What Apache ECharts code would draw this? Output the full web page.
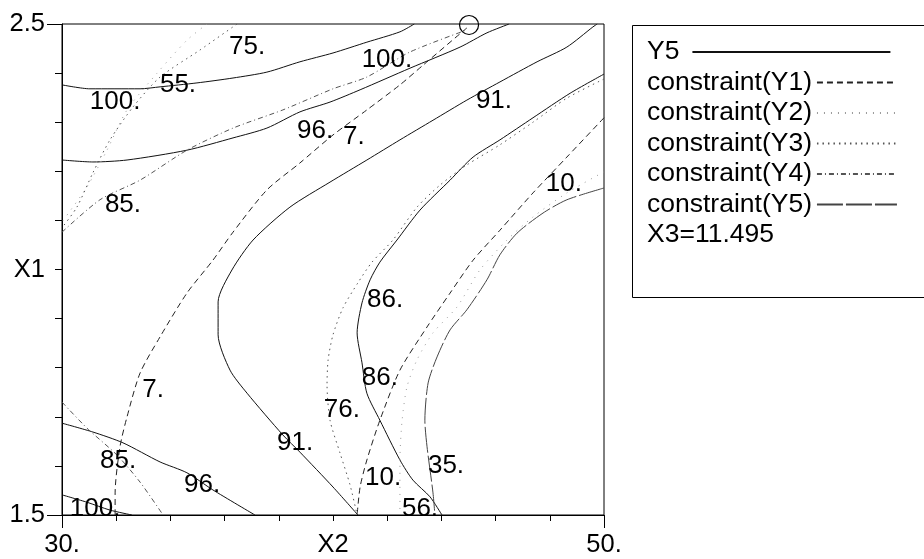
<!DOCTYPE html>
<html>
<head>
<meta charset="utf-8">
<script src="https://cdn.jsdelivr.net/npm/echarts@6/dist/echarts.min.js"></script>
<style>
  html, body { margin: 0; padding: 0; background: #fff; }
  #chart { width: 924px; height: 559px; }
</style>
</head>
<body>
<div id="chart"></div>
<script>
// Contour lines of the response surface in the (X2, X1) plane at X3 = 11.495.
// Each array is one traced contour as [X2, X1] pairs.

// Y5 response contours
const y5Level100Top = [[30.00,2.376],[31.03,2.368],[32.88,2.368],[33.62,2.372],[34.98,2.380],[36.31,2.390],[37.56,2.402],[38.78,2.423],[40.00,2.441],[41.25,2.463],[42.47,2.484],[43.00,2.500]];
const y5Level96Top = [[30.00,2.223],[31.14,2.219],[32.40,2.223],[34.61,2.243],[36.31,2.268],[37.56,2.288],[38.78,2.321],[39.89,2.341],[41.00,2.366],[42.84,2.410],[44.69,2.453],[45.68,2.482],[46.50,2.500]];
const y5Level91 = [[40.92,1.500],[40.00,1.557],[38.78,1.628],[38.15,1.663],[36.83,1.748],[36.20,1.795],[35.76,1.867],[35.76,1.934],[36.27,1.999],[37.05,2.060],[38.41,2.127],[39.89,2.178],[41.25,2.223],[42.47,2.264],[43.69,2.304],[44.94,2.345],[46.16,2.382],[47.53,2.423],[48.63,2.453],[49.59,2.494],[49.75,2.500]];
const y5Level86 = [[50.00,2.398],[48.75,2.359],[47.38,2.309],[46.16,2.264],[45.17,2.229],[44.32,2.182],[43.21,2.121],[42.36,2.060],[41.73,2.015],[41.37,1.979],[41.07,1.932],[40.89,1.871],[41.07,1.810],[41.25,1.748],[41.73,1.693],[42.47,1.612],[42.95,1.571],[43.58,1.537],[44.02,1.500]];
const y5Level96Bottom = [[30.00,1.687],[31.14,1.669],[32.25,1.647],[33.62,1.608],[34.61,1.586],[35.57,1.551],[37.12,1.500]];
const y5Level100Bottom = [[30.00,1.541],[30.92,1.526],[31.77,1.510],[32.58,1.500]];

// Constraint boundaries
const y1Bound7 = [[31.96,1.500],[31.96,1.545],[32.14,1.639],[32.40,1.700],[32.88,1.789],[33.62,1.863],[34.61,1.952],[35.57,2.019],[36.31,2.076],[37.56,2.162],[38.78,2.217],[40.00,2.274],[41.25,2.325],[42.47,2.376],[43.32,2.416],[44.94,2.492]];
const y1Bound10 = [[50.00,2.309],[48.63,2.229],[47.38,2.156],[46.16,2.080],[45.17,2.019],[44.32,1.952],[43.47,1.883],[42.47,1.795],[41.73,1.693],[41.25,1.612],[41.00,1.557],[40.89,1.500]];
const y2Bound55 = [[35.35,2.500],[34.61,2.467],[33.51,2.400],[32.40,2.325],[31.66,2.243],[30.92,2.168],[30.00,2.097]];
const y2Bound56 = [[50.00,2.199],[48.63,2.156],[47.38,2.107],[46.42,2.060],[45.42,1.999],[44.58,1.924],[43.69,1.871],[43.10,1.816],[42.73,1.761],[42.55,1.693],[42.47,1.612],[42.47,1.500]];
const y3Bound75 = [[36.46,2.500],[35.09,2.447],[33.62,2.392],[32.62,2.331],[31.77,2.264],[31.14,2.197],[30.55,2.127],[30.00,2.085]];
const y3Bound76 = [[50.00,2.388],[48.63,2.349],[47.38,2.300],[46.16,2.254],[44.94,2.213],[43.95,2.172],[43.10,2.127],[42.21,2.060],[41.44,2.015],[40.92,1.973],[40.37,1.922],[40.00,1.867],[39.82,1.816],[39.78,1.765],[39.89,1.693],[40.26,1.626],[40.63,1.561],[40.89,1.500]];
const y4Bound85Top = [[30.00,2.076],[31.40,2.142],[32.88,2.182],[34.61,2.243],[36.31,2.288],[38.15,2.325],[40.00,2.368],[41.25,2.392],[42.84,2.443],[44.94,2.488]];
const y4Bound85Bottom = [[30.00,1.730],[30.92,1.677],[32.03,1.622],[32.88,1.567],[33.73,1.500]];
const y5Bound35 = [[50.00,2.166],[48.63,2.142],[47.75,2.115],[46.79,2.074],[46.16,2.030],[45.68,1.979],[44.94,1.918],[44.32,1.877],[43.84,1.822],[43.51,1.769],[43.39,1.693],[43.47,1.639],[43.69,1.545],[43.76,1.500]];

// Level labels written along the contours: [X2, X1, text]
const levelLabels = [
  [36.83,2.453,'75.'],[34.28,2.376,'55.'],[31.96,2.341,'100.'],[39.34,2.282,'96.'],
  [40.77,2.270,'7.'],[41.99,2.427,'100.'],[45.94,2.343,'91.'],[48.52,2.174,'10.'],
  [32.25,2.131,'85.'],[41.92,1.938,'86.'],[41.73,1.779,'86.'],[40.33,1.714,'76.'],
  [41.85,1.575,'10.'],[44.17,1.600,'35.'],[43.21,1.512,'56.'],[33.36,1.755,'7.'],
  [38.60,1.647,'91.'],[32.07,1.610,'85.'],[35.17,1.561,'96.'],[31.22,1.512,'100.']
];

// Optimum found by the search
const optimumPoint = [[45.02, 2.498]];

// Axis ranges and the tick values that carry text
const x2Range = [30, 50];
const x1Range = [1.5, 2.5];
const x2TickText = { 30: '30.', 40: 'X2', 50: '50.' };
const x1TickText = { '1.5': '1.5', '2': 'X1', '2.5': '2.5' };

const legendNames = ['Y5', 'constraint(Y1)', 'constraint(Y2)', 'constraint(Y3)', 'constraint(Y4)', 'constraint(Y5)'];
const settingText = 'X3=11.495';

const contourSets = [
  ['Y5', y5Level100Top], ['Y5', y5Level96Top], ['Y5', y5Level91], ['Y5', y5Level86],
  ['Y5', y5Level96Bottom], ['Y5', y5Level100Bottom],
  ['constraint(Y1)', y1Bound7], ['constraint(Y1)', y1Bound10],
  ['constraint(Y2)', y2Bound55], ['constraint(Y2)', y2Bound56],
  ['constraint(Y3)', y3Bound75], ['constraint(Y3)', y3Bound76],
  ['constraint(Y4)', y4Bound85Top], ['constraint(Y4)', y4Bound85Bottom],
  ['constraint(Y5)', y5Bound35]
];

const FONT = "'Liberation Sans', Arial, Helvetica, sans-serif";
const lineLook = {
  'Y5':             { type: 'solid',      color: '#111', width: 1 },
  'constraint(Y1)': { type: [6, 4],       color: '#222', width: 1 },
  'constraint(Y2)': { type: [1, 6],       color: '#999', width: 1 },
  'constraint(Y3)': { type: [1.5, 4],     color: '#555', width: 1 },
  'constraint(Y4)': { type: [5, 3, 1, 3], color: '#555', width: 1 },
  'constraint(Y5)': { type: [26, 3],      color: '#444', width: 1 }
};

const chart = echarts.init(document.getElementById('chart'), null, { renderer: 'canvas' });

const series = contourSets.map(([name, pts]) => ({
  type: 'line',
  name: name,
  data: pts,
  symbol: 'none',
  smooth: 0.25,
  lineStyle: Object.assign({}, lineLook[name]),
  silent: true,
  z: 2
}));

series.push({
  type: 'scatter',
  name: 'levels',
  data: levelLabels.map(d => ({ value: [d[0], d[1]], label: { formatter: d[2] } })),
  symbol: 'circle',
  symbolSize: 0.1,
  itemStyle: { color: 'transparent', opacity: 1 },
  label: {
    show: true, position: 'inside', color: '#000', fontSize: 26, fontFamily: FONT,
    textBorderWidth: 0, textBorderColor: 'transparent', textShadowBlur: 0
  },
  silent: true,
  z: 3
});

series.push({
  type: 'scatter',
  name: 'optimum',
  data: optimumPoint,
  symbol: 'circle',
  symbolSize: 19,
  itemStyle: { color: 'transparent', borderColor: '#000', borderWidth: 1.2, opacity: 1 },
  clip: false,
  silent: true,
  z: 4
});

const tickLabelStyle = { color: '#000', fontSize: 25.5, fontFamily: FONT };

const legendCommon = {
  orient: 'vertical',
  left: 647,
  padding: 0,
  align: 'right',
  itemHeight: 30,
  selectedMode: false,
  itemStyle: { opacity: 0 },
  textStyle: { color: '#000', fontSize: 26.5, fontFamily: FONT, lineHeight: 30 }
};

chart.setOption({
  animation: false,
  backgroundColor: '#fff',
  grid: { left: 62, top: 24, width: 542, height: 491, show: true, borderColor: '#000', borderWidth: 1, backgroundColor: 'transparent' },
  xAxis: [
    {
      type: 'value', min: x2Range[0], max: x2Range[1], interval: 2, position: 'bottom',
      axisLine: { lineStyle: { color: '#000', width: 1 } },
      axisTick: { length: 6, lineStyle: { color: '#000' } },
      splitLine: { show: false },
      axisLabel: { margin: 17, ...tickLabelStyle, formatter: v => x2TickText[Math.round(v)] || '' }
    },
    {
      type: 'value', min: x2Range[0], max: x2Range[1], interval: 20, position: 'bottom',
      axisLine: { show: false },
      axisTick: { length: 13, lineStyle: { color: '#000' } },
      splitLine: { show: false },
      axisLabel: { show: false }
    }
  ],
  yAxis: [
    {
      type: 'value', min: x1Range[0], max: x1Range[1], interval: 0.1, position: 'left',
      axisLine: { lineStyle: { color: '#000', width: 1 } },
      axisTick: { length: 7, lineStyle: { color: '#000' } },
      splitLine: { show: false },
      axisLabel: { margin: 17, ...tickLabelStyle, formatter: v => x1TickText[String(Math.round(v * 10) / 10)] || '' }
    },
    {
      type: 'value', min: x1Range[0], max: x1Range[1], interval: 1, position: 'left',
      axisLine: { show: false },
      axisTick: { length: 15, lineStyle: { color: '#000' } },
      splitLine: { show: false },
      axisLabel: { show: false }
    }
  ],
  legend: [
    Object.assign({}, legendCommon, {
      top: 37, itemWidth: 198, data: [legendNames[0]],
      textStyle: Object.assign({}, legendCommon.textStyle, { padding: [0, 8, 0, 0] })
    }),
    Object.assign({}, legendCommon, {
      top: 67.5, itemWidth: 80, itemGap: 0.5, data: legendNames.slice(1)
    })
  ],
  title: {
    text: settingText, left: 647, top: 220, padding: 0,
    textStyle: { color: '#000', fontSize: 26.5, fontWeight: 'normal', fontFamily: FONT, lineHeight: 30 }
  },
  graphic: [{
    type: 'rect', left: 632, top: 25, z: -1, silent: true,
    shape: { width: 310, height: 272 },
    style: { fill: '#fff', stroke: '#000', lineWidth: 1 }
  }],
  series: series
});
</script>
</body>
</html>
